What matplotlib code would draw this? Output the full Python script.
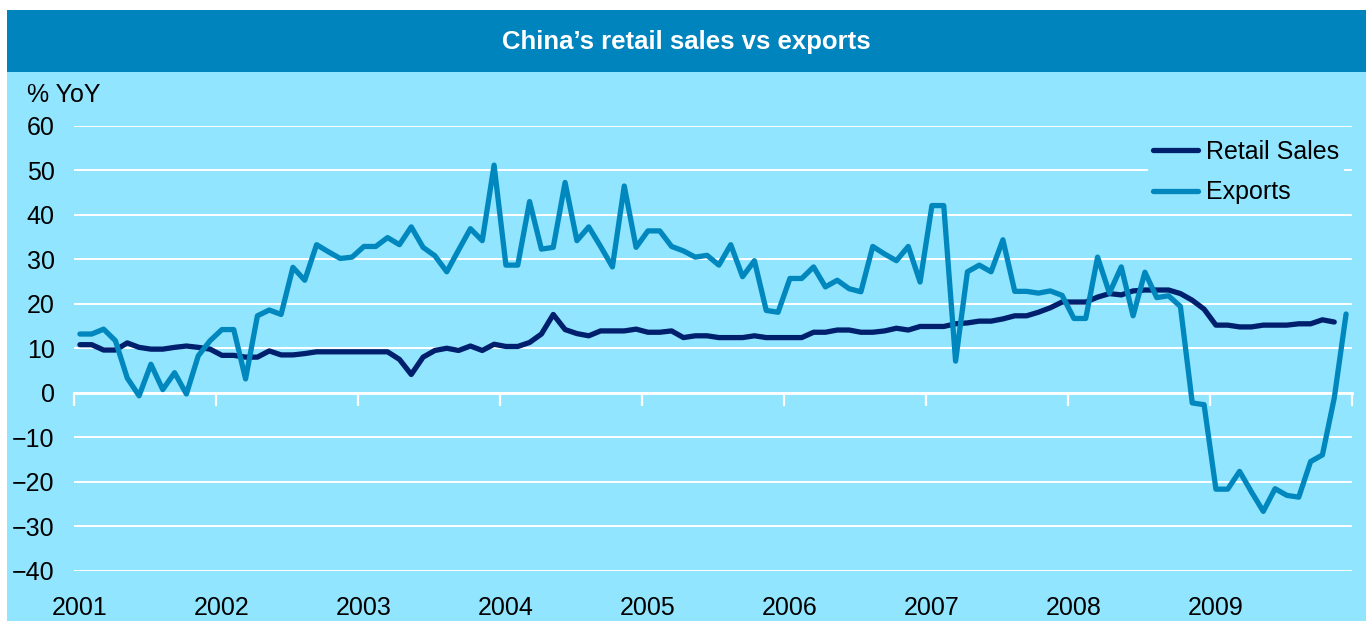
import numpy as np
import matplotlib
matplotlib.use('Agg')
import matplotlib.pyplot as plt
from matplotlib.patches import Rectangle

plt.rcParams['font.family'] = ['Liberation Sans', 'DejaVu Sans']

# monthly % YoY, Jan 2001 .. Dec 2009
years = ['2001', '2002', '2003', '2004', '2005', '2006', '2007', '2008', '2009']

retail_sales = [
    10.8, 10.8, 9.6, 9.6, 11.2, 10.2, 9.8, 9.8, 10.2, 10.5, 10.2, 9.8,
    8.4, 8.4, 8.0, 8.0, 9.4, 8.5, 8.5, 8.8, 9.2, 9.2, 9.2, 9.2,
    9.2, 9.2, 9.2, 7.5, 4.1, 8.0, 9.5, 10.0, 9.5, 10.5, 9.5, 10.9,
    10.4, 10.4, 11.3, 13.2, 17.6, 14.2, 13.3, 12.8, 13.9, 13.9, 13.9, 14.3,
    13.6, 13.6, 13.9, 12.4, 12.8, 12.8, 12.4, 12.4, 12.4, 12.8, 12.4, 12.4,
    12.4, 12.4, 13.6, 13.6, 14.1, 14.1, 13.6, 13.6, 13.9, 14.5, 14.1, 14.9,
    14.9, 14.9, 15.5, 15.7, 16.1, 16.1, 16.6, 17.3, 17.3, 18.1, 19.1, 20.4,
    20.4, 20.4, 21.5, 22.3, 22.0, 22.9, 23.1, 23.1, 23.1, 22.3, 20.8, 18.8,
    15.2, 15.2, 14.8, 14.8, 15.2, 15.2, 15.2, 15.5, 15.5, 16.4, 15.9,
]

exports = [
    13.2, 13.2, 14.3, 11.7, 3.3, -0.7, 6.4, 0.7, 4.5, -0.3, 8.3, 11.7,
    14.2, 14.2, 3.1, 17.3, 18.6, 17.6, 28.2, 25.3, 33.3, 31.7, 30.2, 30.5,
    32.9, 32.9, 34.9, 33.3, 37.3, 32.7, 30.8, 27.2, 32.1, 36.9, 34.2, 51.2,
    28.7, 28.7, 43.0, 32.3, 32.7, 47.3, 34.2, 37.3, 32.9, 28.3, 46.5, 32.7,
    36.4, 36.4, 32.9, 31.9, 30.5, 30.9, 28.7, 33.3, 26.1, 29.7, 18.5, 18.1,
    25.7, 25.7, 28.3, 23.8, 25.3, 23.4, 22.7, 32.9, 31.2, 29.7, 32.9, 24.9,
    42.1, 42.1, 7.1, 27.2, 28.7, 27.2, 34.4, 22.8, 22.8, 22.4, 22.9, 21.9,
    16.7, 16.7, 30.5, 22.4, 28.3, 17.3, 27.1, 21.4, 21.8, 19.4, -2.3, -2.7,
    -21.7, -21.7, -17.7, -22.3, -26.7, -21.6, -23.1, -23.5, -15.5, -14.0, -1.2, 17.7,
]

BG = '#91E5FF'
BAR = '#0084BE'
NAVY = '#00206E'
TEAL = '#0088BE'
FS = 18

W, H = 1372, 621
fig = plt.figure(figsize=(W / 100, H / 100), dpi=100)
fig.patch.set_facecolor('white')

# light blue panel and title bar, behind the axes
fig.patches.append(Rectangle((7 / W, 0), 1359 / W, 611 / H,
                             transform=fig.transFigure, facecolor=BG, edgecolor='none', zorder=-2))
fig.patches.append(Rectangle((7 / W, 1 - 72 / H), 1359 / W, 62 / H,
                             transform=fig.transFigure, facecolor=BAR, edgecolor='none', zorder=-1))
fig.text(686 / W, 1 - 42 / H, 'China\u2019s retail sales vs exports', color='white',
         fontsize=18.5, fontweight='bold', ha='center', va='center')
fig.text(27 / W, 1 - 95 / H, '% YoY', fontsize=FS, ha='left', va='center')

left, right = 74 / W, 1352 / W
top, bottom = 1 - 126 / H, 1 - 570.5 / H
ax = fig.add_axes([left, bottom, right - left, top - bottom])
ax.patch.set_alpha(0)

n_months = len(years) * 12
ax.set_xlim(-0.5, n_months - 0.5)
ax.set_ylim(-40, 60)
ax.set_yticks(np.arange(-40, 61, 10))
ax.grid(axis='y', color='white', linewidth=1.4)
ax.set_axisbelow(True)

for side in ['left', 'right', 'top']:
    ax.spines[side].set_visible(False)
ax.spines['bottom'].set_position(('data', 0))
ax.spines['bottom'].set_color('white')
ax.spines['bottom'].set_linewidth(2)

ax.set_xticks(np.arange(-0.5, n_months, 12))
ax.set_xticklabels([])
ax.tick_params(axis='x', direction='out', length=9, width=1.6, color='white')
ax.tick_params(axis='y', length=0, pad=14, labelsize=FS)

for k, label in enumerate(years):
    ax.text(k * 12, -0.085, label, transform=ax.get_xaxis_transform(),
            ha='center', va='center', fontsize=FS)

ax.plot(np.arange(len(retail_sales)), retail_sales, color=NAVY, linewidth=3.8,
        solid_joinstyle='round', solid_capstyle='round', label='Retail Sales', zorder=3)
ax.plot(np.arange(len(exports)), exports, color=TEAL, linewidth=3.8,
        solid_joinstyle='round', solid_capstyle='round', label='Exports', zorder=3)

leg = ax.legend(loc='upper left', bbox_to_anchor=(1148 / W, 1 - 135 / H),
                bbox_transform=fig.transFigure, borderaxespad=0, borderpad=0.2,
                fontsize=FS, handlelength=1.8, handletextpad=0.3, labelspacing=0.65,
                frameon=True, facecolor=BG, edgecolor='none', framealpha=1, fancybox=False)
leg.set_zorder(5)

fig.savefig('out.png', dpi=100)
